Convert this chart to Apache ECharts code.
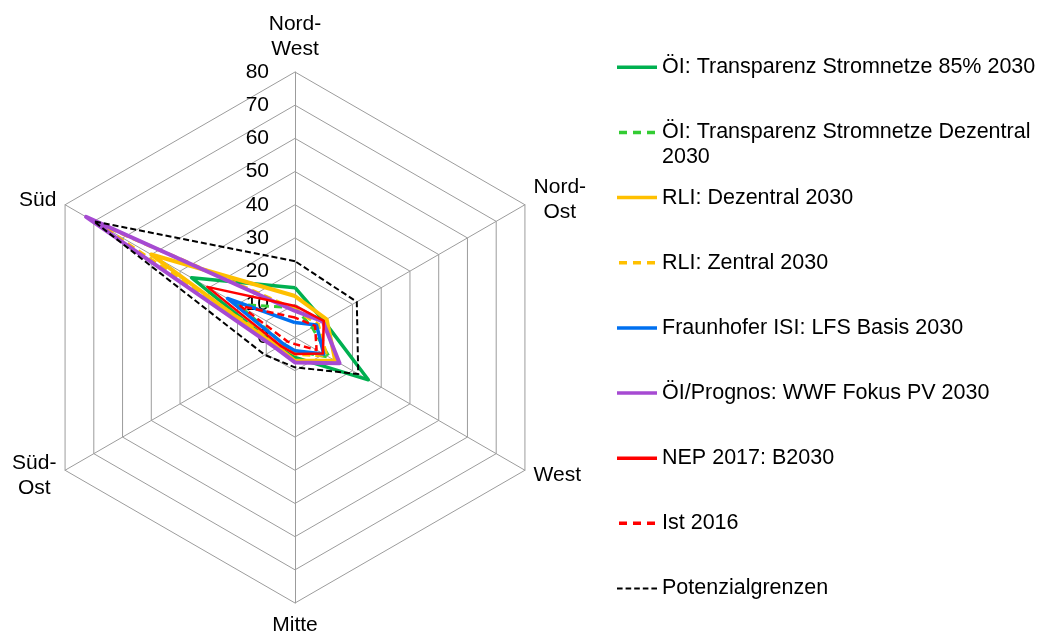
<!DOCTYPE html>
<html>
<head>
<meta charset="utf-8">
<script src="https://cdn.jsdelivr.net/npm/echarts@6/dist/echarts.min.js"></script>
<style>
html, body { margin: 0; padding: 0; background: #fff; }
#chart { width: 1038px; height: 634px; }
</style>
</head>
<body>
<div id="chart"></div>
<script>
// Achsen in ECharts-Reihenfolge (gegen den Uhrzeigersinn, oben beginnend)
var regions = ['Nord-\nWest', 'Süd', 'Süd-\nOst', 'Mitte', 'West', 'Nord-\nOst'];
var maxValue = 80;

var seriesNames = [
    'ÖI: Transparenz Stromnetze 85% 2030',
    'ÖI: Transparenz Stromnetze Dezentral 2030',
    'RLI: Dezentral 2030',
    'RLI: Zentral 2030',
    'Fraunhofer ISI: LFS Basis 2030',
    'ÖI/Prognos: WWF Fokus PV 2030',
    'NEP 2017: B2030',
    'Ist 2016',
    'Potenzialgrenzen'
];

var oiTransparenz85   = [15, 36, 6, 6, 25.5, 10];
var oiDezentral       = [9, 20, 4, 4, 12, 6];
var rliDezentral      = [12.5, 50, 6, 7, 14, 11];
var rliZentral        = [8.5, 70, 5, 5, 11, 8];
var fraunhoferLfs     = [4.5, 23.5, 4, 4, 10, 7.5];
var wwfFokusPv        = [8, 72.7, 6.5, 7.5, 15.5, 9.7];
var nepB2030          = [9.5, 30.5, 5, 5, 9.7, 10];
var ist2016           = [6, 19, 2.5, 2, 7.5, 7];
var potenzialgrenzen  = [23, 70, 10.5, 9, 22, 21.5];

var seriesValues = [oiTransparenz85, oiDezentral, rliDezentral, rliZentral,
    fraunhoferLfs, wwfFokusPv, nepB2030, ist2016, potenzialgrenzen];

var colors = ['#00B050', '#33CC33', '#FFC000', '#FFC000', '#0070F0', '#A64AD2', '#FF0000', '#FF0000', '#000000'];
var dashes = ['solid', [8, 5], 'solid', [8, 5], 'solid', 'solid', 'solid', [7, 4], [6, 3]];
var widths = [3.5, 3, 4, 3.5, 3.5, 4, 2.5, 2.5, 2];

var font = 'Liberation Sans, Arial, sans-serif';
var solidIcon = 'path://M0,0h40v3.5h-40z';
var dashIcon = 'path://M0,0h8v3.5h-8zM14,0h8v3.5h-8zM28,0h8v3.5h-8z';
var blackIcon = 'path://M0,0h5.6v2h-5.6zM8.6,0h5.6v2h-5.6zM17.2,0h5.6v2h-5.6zM25.8,0h5.6v2h-5.6zM34.4,0h5.6v2h-5.6z';

var myChart = echarts.init(document.getElementById('chart'), null, {renderer: 'canvas'});

var indicators = regions.map(function (r, i) {
    var ind = {name: r, min: 0, max: maxValue};
    if (i > 0) {
        ind.axisLabel = {show: false};
    }
    return ind;
});

var series = seriesNames.map(function (name, i) {
    return {
        name: name,
        type: 'radar',
        symbol: 'none',
        silent: true,
        z: 2 + i,
        itemStyle: {color: colors[i]},
        lineStyle: {color: colors[i], width: widths[i], type: dashes[i]},
        data: [{name: name, value: seriesValues[i]}]
    };
});

var legendData = seriesNames.map(function (name, i) {
    var icon = solidIcon;
    if (i === 8) {
        icon = blackIcon;
    } else if (dashes[i] !== 'solid') {
        icon = dashIcon;
    }
    return {name: name, icon: icon};
});

var option = {
    animation: false,
    legend: {
        orient: 'vertical',
        left: 617,
        top: 31.3,
        padding: 0,
        itemGap: -6.85,
        itemWidth: 40,
        itemHeight: 3.5,
        selectedMode: false,
        itemStyle: {borderWidth: 0},
        data: legendData,
        formatter: function (name) {
            if (name === 'ÖI: Transparenz Stromnetze Dezentral 2030') {
                return '{s|\u00a0}\n{n|ÖI: Transparenz Stromnetze Dezentral}\n{s|2030}';
            }
            return '{s|\u00a0}\n{n|' + name + '}\n{s|\u00a0}';
        },
        textStyle: {
            color: '#000',
            fontSize: 21.5,
            fontFamily: font,
            lineHeight: 14.5,
            rich: {
                s: {fontSize: 21.5, fontFamily: font, color: '#000', lineHeight: 14.5},
                n: {fontSize: 21.5, fontFamily: font, color: '#000', lineHeight: 35.5}
            }
        }
    },
    radar: {
        center: [295, 337.5],
        radius: 265.5,
        startAngle: 90,
        splitNumber: 8,
        shape: 'polygon',
        indicator: indicators,
        nameGap: 10,
        axisName: {
            color: '#000',
            fontSize: 21,
            fontFamily: font,
            lineHeight: 25,
            formatter: function (name) {
                return name.split('\n').map(function (s) {
                    return '{c|' + s + '}';
                }).join('\n');
            },
            rich: {
                c: {align: 'center', fontSize: 21, fontFamily: font, color: '#000', lineHeight: 25}
            }
        },
        splitLine: {lineStyle: {color: '#9C9C9C', width: 1}},
        splitArea: {show: false},
        axisLine: {lineStyle: {color: '#9C9C9C', width: 1}},
        axisTick: {show: false},
        axisLabel: {show: true, color: '#000', fontSize: 21, fontFamily: font, margin: 26}
    },
    series: series
};

myChart.setOption(option);
</script>
</body>
</html>
